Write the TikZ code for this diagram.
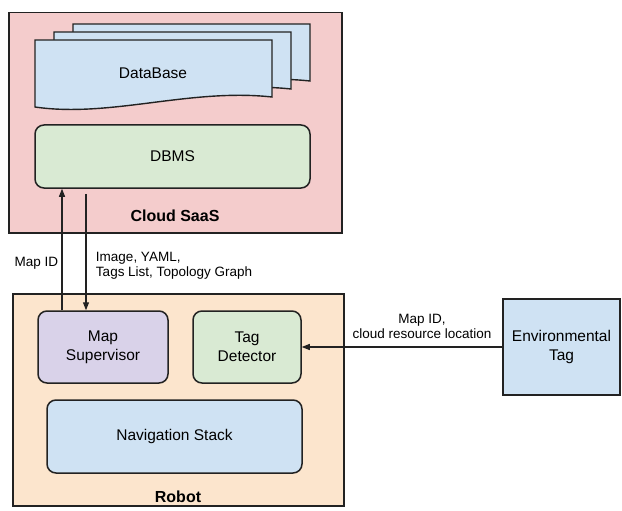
\documentclass[tikz,border=0pt]{standalone}
\usepackage{fontspec}
\setmainfont{Liberation Sans}
\usepackage{xcolor}
\usepackage{tikz}
\usetikzlibrary{arrows.meta,positioning}

\definecolor{cloudpink}{HTML}{F4CCCC}
\definecolor{robotorange}{HTML}{FCE5CD}
\definecolor{boxblue}{HTML}{CFE2F3}
\definecolor{boxgreen}{HTML}{D9EAD3}
\definecolor{boxpurple}{HTML}{D9D2E9}
\definecolor{edge}{HTML}{222222}

\begin{document}
\begin{tikzpicture}[
    x=1pt, y=-1pt,
    frame/.style={draw=edge, line width=1.5pt, anchor=north west},
    block/.style={draw=edge, line width=1.5pt, rounded corners=9pt, align=center, font=\fontsize{15.5}{19}\selectfont},
    doc/.style={draw=edge, fill=boxblue, line width=1.4pt},
    title/.style={font=\fontsize{16}{19}\selectfont\bfseries},
    lbl/.style={font=\fontsize{13.5}{15}\selectfont, align=left},
    arrow/.style={-{Triangle[length=8pt,width=6pt]}, line width=1.3pt, draw=edge}
]
    \useasboundingbox (0,0) rectangle (622,511);

    % Containers
    \node[frame, fill=cloudpink, minimum width=333pt, minimum height=220pt] (cloud) at (8,12) {};
    \node[frame, fill=robotorange, minimum width=331pt, minimum height=212pt] (robot) at (12,293) {};
    \node[title] (cloudname) at (175,216) {Cloud SaaS};
    \node[title] (robotname) at (178,497) {Robot};

    % DataBase (stacked documents)
    \filldraw[doc, shift={(38,-16)}] (35,40) -- (272,40) -- (272,97) .. controls (190,88) and (110,118) .. (35,107) -- cycle;
    \filldraw[doc, shift={(19,-8)}] (35,40) -- (272,40) -- (272,97) .. controls (190,88) and (110,118) .. (35,107) -- cycle;
    \filldraw[doc] (35,40) -- (272,40) -- (272,97) .. controls (190,88) and (110,118) .. (35,107) -- cycle;
    \node[font=\fontsize{15.5}{19}\selectfont] (db) at (153,73) {DataBase};

    % Blocks
    \node[block, fill=boxgreen, minimum width=275pt, minimum height=63pt] (dbms) at (172.5,156.5) {DBMS};
    \node[block, fill=boxpurple, minimum width=130pt, minimum height=72pt] (ms) at (103,347) {Map\\Supervisor};
    \node[block, fill=boxgreen, minimum width=108pt, minimum height=72pt] (td) at (247,347) {Tag\\Detector};
    \node[block, fill=boxblue, minimum width=255pt, minimum height=73pt] (nav) at (174.5,436.5) {Navigation Stack};
    \node[block, rounded corners=0pt, fill=boxblue, minimum width=117pt, minimum height=96pt] (env) at (561.5,347) {Environmental\\Tag};

    % Connectors
    \draw[arrow] ([xshift=-41pt]ms.north) -- node[lbl, left, pos=0.39] {Map ID} ([xshift=-41pt]ms.north |- dbms.south);
    \draw[arrow] ([xshift=-17pt,yshift=-5pt]ms.north |- dbms.south) -- node[lbl, right, xshift=6pt, pos=0.62] {Image, YAML,\\Tags List, Topology Graph} ([xshift=-17pt]ms.north);
    \draw[arrow] (env.west) -- node[lbl, above, yshift=4pt, pos=0.4, align=center] {Map ID,\\cloud resource location} (td.east);
\end{tikzpicture}
\end{document}
